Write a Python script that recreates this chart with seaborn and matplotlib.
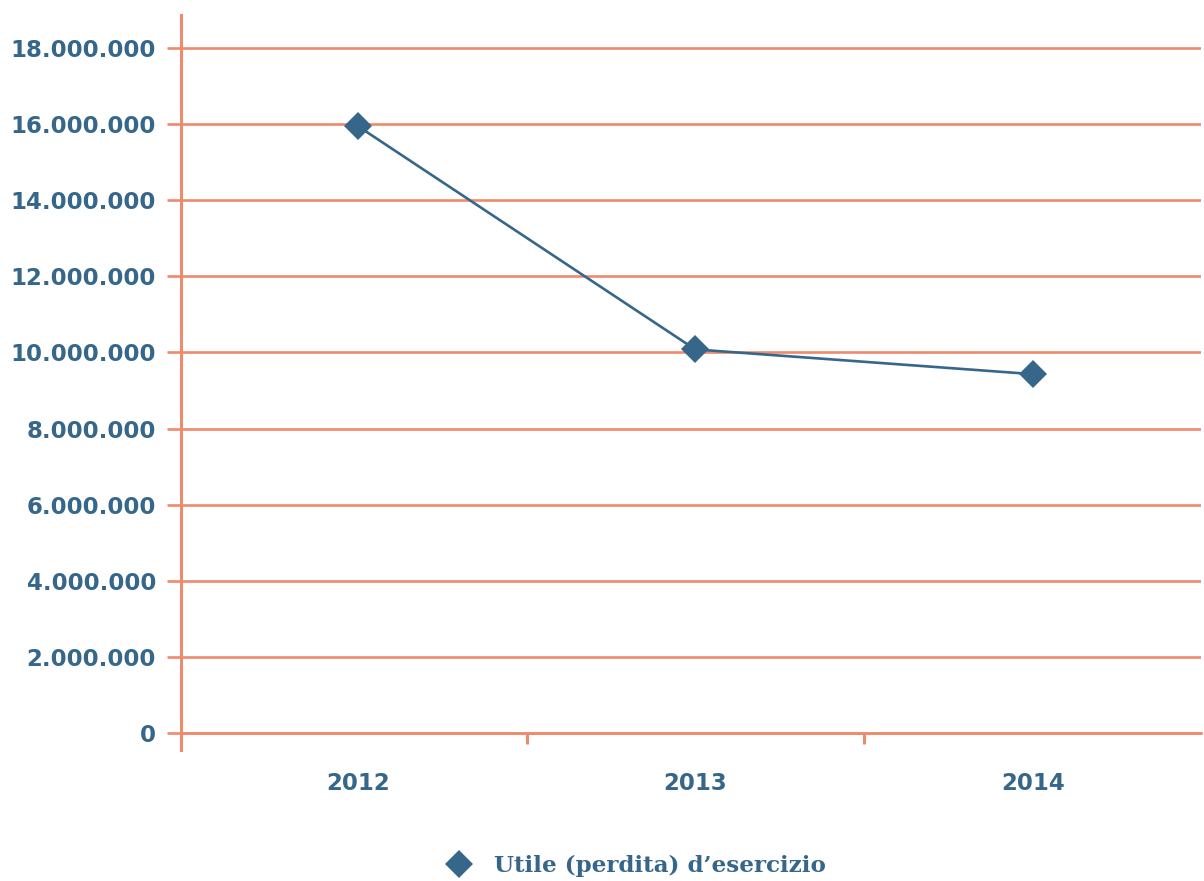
import matplotlib
matplotlib.use("Agg")
import matplotlib.pyplot as plt
from matplotlib.lines import Line2D
from matplotlib.ticker import FuncFormatter, FixedLocator
import seaborn as sns
import pandas as pd

years = ["2012", "2013", "2014"]
utile = [15_950_000, 10_080_000, 9_430_000]
series_name = "Utile (perdita) d\u2019esercizio"
y_ticks = [0, 2_000_000, 4_000_000, 6_000_000, 8_000_000, 10_000_000,
           12_000_000, 14_000_000, 16_000_000, 18_000_000]

BLUE = "#36678A"
ORANGE = "#F08A6C"

sns.set_theme(style="white")
plt.rcParams["font.family"] = ["DejaVu Sans"]

df = pd.DataFrame({"pos": range(len(years)), "valore": utile})

fig = plt.figure(figsize=(12.04, 8.81), dpi=100)
ax = fig.add_axes([181 / 1204, 1 - 750 / 881, (1201 - 181) / 1204, (750 - 15) / 881])

for v in y_ticks:
    ax.axhline(v, color=ORANGE, lw=1.9, zorder=1)

sns.lineplot(data=df, x="pos", y="valore", ax=ax, color=BLUE, lw=1.9,
             marker="D", markersize=14, markeredgewidth=0, zorder=3)

ax.set_xlim(-0.524, 2.499)
ax.set_ylim(-450_000, 18_870_000)

for side in ("top", "right"):
    ax.spines[side].set_visible(False)
ax.spines["left"].set_color(ORANGE)
ax.spines["left"].set_linewidth(2.2)
ax.spines["bottom"].set_position(("data", 0))
ax.spines["bottom"].set_color(ORANGE)
ax.spines["bottom"].set_linewidth(1.9)

ax.yaxis.set_major_locator(FixedLocator(y_ticks))
ax.yaxis.set_major_formatter(FuncFormatter(lambda v, _: f"{int(v):,}".replace(",", ".")))
ax.tick_params(axis="y", which="major", length=10, width=1.9, color=ORANGE,
               pad=8, labelcolor=BLUE, labelsize=16.5, left=True)

ax.set_xticks(range(len(years)))
ax.set_xticklabels(years)
ax.set_xticks([0.5, 1.5], minor=True)
ax.tick_params(axis="x", which="major", length=0, pad=28, labelcolor=BLUE, labelsize=16.5)
ax.tick_params(axis="x", which="minor", length=8, width=2.2, color=ORANGE, bottom=True,
               direction="out")
for lab in ax.get_xticklabels() + ax.get_yticklabels():
    lab.set_fontweight("bold")

ax.set_xlabel("")
ax.set_ylabel("")
if ax.get_legend():
    ax.get_legend().remove()

handle = Line2D([], [], color=BLUE, marker="D", markersize=14, lw=0, markeredgewidth=0)
fig.legend([handle], [series_name], loc="center", bbox_to_anchor=(0.528, 1 - 866 / 881),
           frameon=False, handletextpad=0.9, handlelength=1.2,
           prop={"family": ["DejaVu Serif"], "weight": "bold", "size": 16.6},
           labelcolor=BLUE)

fig.savefig("out.png", dpi=100, facecolor="white")
